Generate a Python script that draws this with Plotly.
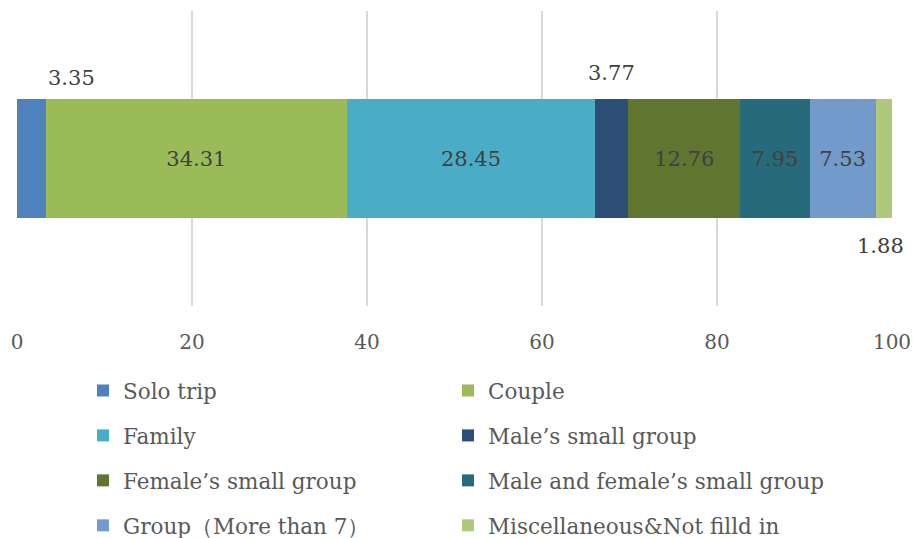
import plotly.graph_objects as go

categories = ["Solo trip", "Couple", "Family", "Male’s small group",
              "Female’s small group", "Male and female’s small group",
              "Group（More than 7）", "Miscellaneous&Not filld in"]
values = [3.35, 34.31, 28.45, 3.77, 12.76, 7.95, 7.53, 1.88]
colors = ["#4F81BD", "#9BBB59", "#4BACC6", "#2C4D75",
          "#5F7530", "#276A7C", "#729ACA", "#AFC97A"]
x_ticks = [0, 20, 40, 60, 80, 100]

FONT = "DejaVu Serif"
inside = [False, True, True, False, True, True, True, False]

fig = go.Figure()
for i, (name, v, c) in enumerate(zip(categories, values, colors)):
    fig.add_trace(go.Bar(
        y=[""], x=[v], name=name, orientation="h",
        marker=dict(color=c, line=dict(width=0)),
        text=[f"{v:.2f}"] if inside[i] else None,
        textposition="inside", insidetextanchor="middle",
        textangle=0, constraintext="none",
        textfont=dict(family=FONT, size=21, color="#404040"),
        legend="legend" if i % 2 == 0 else "legend2",
        legendgroup=f"g{i}",
        hoverinfo="skip",
    ))

# outside labels for the small segments
cum = 0
starts = []
for v in values:
    starts.append(cum)
    cum += v
outside_cfg = {0: ("end", 81), 3: ("center", 86), 7: ("center", -87)}
for i, (pos, ys) in outside_cfg.items():
    if pos == "end":
        xv, anchor = starts[i] + values[i], "left"
    else:
        xv, anchor = starts[i] + values[i] / 2, "center"
    fig.add_annotation(x=xv, y=0, xref="x", yref="y", text=f"{values[i]:.2f}",
                       showarrow=False, xanchor=anchor, yshift=ys, xshift=-3 if i == 7 else 0,
                       font=dict(family=FONT, size=21, color="#404040"))

legend_common = dict(
    orientation="v", xref="container", yref="container",
    yanchor="top", xanchor="left", tracegroupgap=14,
    font=dict(family=FONT, size=21.5, color="#595959"),
    bgcolor="rgba(0,0,0,0)", itemclick=False,
)

fig.update_layout(
    width=913, height=538,
    barmode="stack", bargap=0.597,
    margin=dict(l=17, r=21, t=11, b=232, autoexpand=False),
    plot_bgcolor="white", paper_bgcolor="white",
    showlegend=True,
    legend=dict(x=83 / 913, y=1 - 370 / 538, **legend_common),
    legend2=dict(x=448 / 913, y=1 - 370 / 538, **legend_common),
    xaxis=dict(range=[0, 100], tickvals=x_ticks, showgrid=True,
               gridcolor="#D9D9D9", gridwidth=1.5, zeroline=False,
               showline=False, ticks="", ticklabelstandoff=22,
               tickfont=dict(family=FONT, size=20, color="#595959")),
    yaxis=dict(showticklabels=False, showgrid=False, zeroline=False,
               showline=False),
)

fig.write_html("out.html",
               config={"displayModeBar": False},
               post_script="document.body.style.margin='0';document.body.style.overflow='hidden';")
